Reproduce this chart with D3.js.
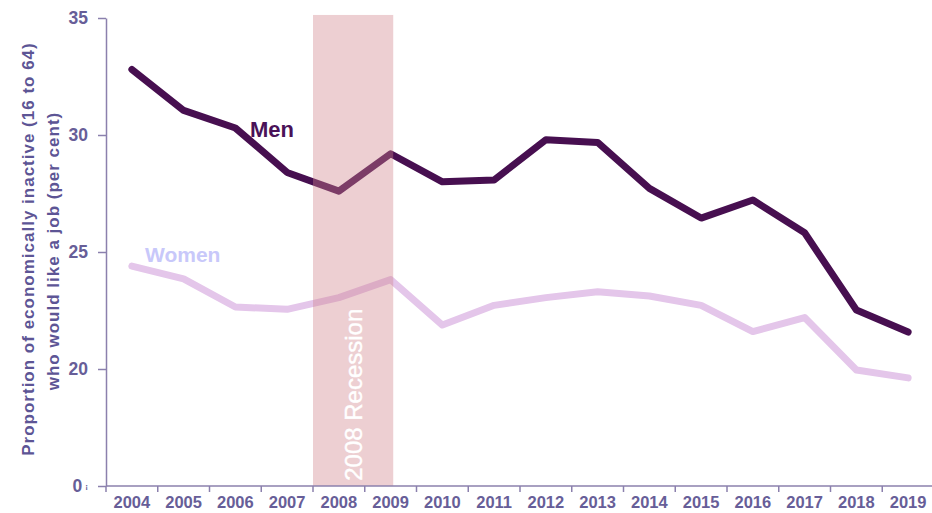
<!DOCTYPE html>
<html>
<head>
<meta charset="utf-8">
<script src="https://cdn.jsdelivr.net/npm/d3@7/dist/d3.min.js"></script>
<style>
  html, body { margin: 0; padding: 0; background: #ffffff; }
  svg { display: block; font-family: "Liberation Sans", Arial, Helvetica, sans-serif; }
</style>
</head>
<body>
<svg id="chart" width="932" height="513"></svg>
<script>
// Economically inactive people aged 16 to 64 who would like a job, by sex
const years = [2004, 2005, 2006, 2007, 2008, 2009, 2010, 2011, 2012, 2013, 2014, 2015, 2016, 2017, 2018, 2019];
const men   = [32.8, 31.05, 30.3, 28.4, 27.6, 29.2, 28.0, 28.08, 29.8, 29.68, 27.72, 26.45, 27.22, 25.82, 22.52, 21.58];
const women = [24.4, 23.85, 22.65, 22.55, 23.05, 23.82, 21.88, 22.72, 23.05, 23.3, 23.12, 22.72, 21.6, 22.2, 19.96, 19.62];

// The vertical axis is broken: its bottom gridline stands for zero
const yTickValues = [15, 20, 25, 30, 35];
const yTickLabels = ["0", "20", "25", "30", "35"];

const recessionStart = 2008;
const recessionEnd = 2009;
const recessionLabel = "2008  Recession";

const svg = d3.select("#chart");

const x = d3.scaleBand().domain(years).range([106, 934]).padding(0);
const y = d3.scaleLinear().domain([15, 35]).range([486, 18]);
const cx = d => x(d) + x.bandwidth() / 2;

const axisColor = "#8b80ad";
const labelColor = "#675e98";

// Recession shading (drawn over the lines, semi-transparent)
const drawRecession = () => {
  const x0 = x(recessionStart);
  const x1 = x(recessionEnd) + x.bandwidth() * 0.55;
  svg.append("rect")
    .attr("x", x0)
    .attr("y", y(35.13))
    .attr("width", x1 - x0)
    .attr("height", y(15) - y(35.13))
    .attr("fill", "#d0848a")
    .attr("opacity", 0.39);
  const mx = (x0 + x1) / 2;
  svg.append("text")
    .attr("transform", `translate(${mx},${(y(15) + y(22.8)) / 2}) rotate(-90)`)
    .attr("text-anchor", "middle")
    .attr("dominant-baseline", "central")
    .attr("fill", "#ffffff")
    .attr("font-size", 24)
    .attr("stroke", "#ffffff")
    .attr("stroke-width", 0.4)
    .text(recessionLabel);
};

// Series lines
const line = d3.line()
  .x((d, i) => cx(years[i]))
  .y(d => y(d));

svg.append("path")
  .datum(women)
  .attr("d", line)
  .attr("fill", "none")
  .attr("stroke", "#e4c6ea")
  .attr("stroke-width", 7)
  .attr("stroke-linejoin", "round")
  .attr("stroke-linecap", "round");

svg.append("path")
  .datum(men)
  .attr("d", line)
  .attr("fill", "none")
  .attr("stroke", "#470f50")
  .attr("stroke-width", 7)
  .attr("stroke-linejoin", "round")
  .attr("stroke-linecap", "round");

drawRecession();

// Series labels
svg.append("text")
  .attr("x", 250).attr("y", 137)
  .attr("font-size", 22).attr("font-weight", "bold")
  .attr("fill", "#4a1258")
  .text("Men");

svg.append("text")
  .attr("x", 145).attr("y", 262)
  .attr("font-size", 21).attr("font-weight", "bold")
  .attr("fill", "#c8c8fa")
  .text("Women");

// Y axis
const yAxis = d3.axisLeft(y)
  .tickValues(yTickValues)
  .tickSize(8)
  .tickSizeOuter(0)
  .tickPadding(10)
  .tickFormat((d, i) => yTickLabels[i]);

const gy = svg.append("g")
  .attr("transform", `translate(${x.range()[0]},0)`)
  .call(yAxis);
gy.select(".domain").attr("stroke", axisColor).attr("stroke-width", 1.5);
gy.selectAll(".tick line").attr("stroke", axisColor).attr("stroke-width", 1.5);
gy.selectAll(".tick text")
  .attr("fill", labelColor)
  .attr("font-size", 17.5)
  .attr("font-weight", "bold")
  .attr("font-family", "'Liberation Sans', Arial, sans-serif");
// break marker beside the zero label
gy.selectAll(".tick text").filter(d => d === 15)
  .append("tspan")
  .attr("dx", 3)
  .attr("dy", -3)
  .attr("font-size", 8)
  .text("¡");

// X axis: baseline with ticks at category boundaries
const gx = svg.append("g");
gx.append("line")
  .attr("x1", x.range()[0]).attr("x2", 932)
  .attr("y1", y(15)).attr("y2", y(15))
  .attr("stroke", axisColor).attr("stroke-width", 1.5);
const boundaries = years.map(d => x(d)).concat([x.range()[1]]);
gx.selectAll("line.tick")
  .data(boundaries)
  .join("line")
  .attr("class", "tick")
  .attr("x1", d => d).attr("x2", d => d)
  .attr("y1", y(15)).attr("y2", y(15) + 6)
  .attr("stroke", axisColor).attr("stroke-width", 1.5);
gx.selectAll("text")
  .data(years)
  .join("text")
  .attr("x", d => cx(d))
  .attr("y", 508)
  .attr("text-anchor", "middle")
  .attr("fill", labelColor)
  .attr("font-size", 16.5)
  .attr("font-weight", "bold")
  .text(d => d);

// Y axis title
const title = svg.append("text")
  .attr("transform", `translate(0,249) rotate(-90)`)
  .attr("text-anchor", "middle")
  .attr("fill", "#5d5595")
  .attr("font-size", 17)
  .attr("font-weight", "bold")
  .attr("letter-spacing", 1.0);
title.append("tspan").attr("x", 0).attr("y", 33.5).text("Proportion of economically inactive (16 to 64)");
title.append("tspan").attr("x", -2).attr("y", 58.5).text("who would like a job (per cent)");
</script>
</body>
</html>
